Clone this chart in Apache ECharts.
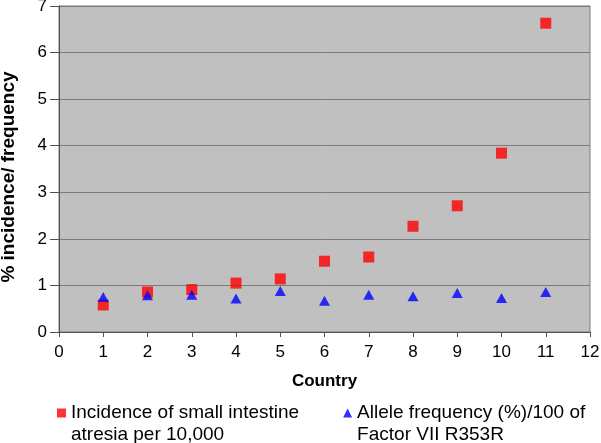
<!DOCTYPE html>
<html>
<head>
<meta charset="utf-8">
<script src="https://cdn.jsdelivr.net/npm/echarts@6/dist/echarts.min.js"></script>
<style>html,body{margin:0;padding:0;background:#fff;}#c{width:601px;height:443px;}</style>
</head>
<body>
<div id="c"></div>
<script>
const countries = [1, 2, 3, 4, 5, 6, 7, 8, 9, 10, 11];
const incidence = [0.58, 0.86, 0.91, 1.05, 1.14, 1.52, 1.61, 2.27, 2.71, 3.84, 6.63];
const allele = [0.75, 0.79, 0.80, 0.72, 0.88, 0.67, 0.80, 0.77, 0.84, 0.73, 0.86];
const seriesNames = ['Incidence of small intestine\natresia per 10,000', 'Allele frequency (%)/100 of\nFactor VII R353R'];
const xTitle = 'Country';
const yTitle = '% incidence/ frequency';

const font = 'Liberation Sans, Arial, sans-serif';
const chart = echarts.init(document.getElementById('c'), null, {renderer: 'canvas'});
chart.setOption({
  animation: false,
  backgroundColor: '#ffffff',
  grid: {left: 59, right: 11, top: 6, bottom: 111, containLabel: false, outerBoundsMode: 'none',
         show: true, backgroundColor: '#c0c0c0', borderColor: '#7a7a7a', borderWidth: 1},
  xAxis: {
    type: 'value', min: 0, max: 12, interval: 1,
    name: xTitle, nameLocation: 'middle', nameGap: 41,
    nameTextStyle: {fontFamily: font, fontSize: 17, fontWeight: 'bold', color: '#000'},
    axisLine: {onZero: false, lineStyle: {color: '#505050', width: 1}},
    axisTick: {show: true, length: 5, inside: false, lineStyle: {color: '#505050'}},
    axisLabel: {fontFamily: font, fontSize: 17, color: '#000', margin: 12},
    splitLine: {show: false}
  },
  yAxis: {
    type: 'value', min: 0, max: 7, interval: 1,
    name: yTitle, nameLocation: 'middle', nameGap: 41, nameRotate: 90,
    nameTextStyle: {fontFamily: font, fontSize: 19, fontWeight: 'bold', color: '#000', padding: [0, 16, 0, 0]},
    axisLine: {show: true, lineStyle: {color: '#505050', width: 1}},
    axisTick: {show: true, length: 9, inside: false, lineStyle: {color: '#505050'}},
    axisLabel: {fontFamily: font, fontSize: 17, color: '#000', margin: 12},
    splitLine: {show: true, lineStyle: {color: '#7a7a7a', width: 1}}
  },
  legend: {
    left: 52, top: 375, itemGap: 44, itemWidth: 9, itemHeight: 9,
    formatter: name => ' \n' + name,
    textStyle: {fontFamily: font, fontSize: 19, color: '#000', lineHeight: 22},
    data: [{name: seriesNames[0], icon: 'rect'}, {name: seriesNames[1], icon: 'triangle'}]
  },
  series: [
    {name: seriesNames[0], type: 'scatter', symbol: 'rect', symbolSize: 11, itemStyle: {color: '#ff0000'},
     data: countries.map((c, i) => [c, incidence[i]])},
    {name: seriesNames[1], type: 'scatter', symbol: 'triangle', symbolSize: [11, 10], itemStyle: {color: '#0000ff'},
     data: countries.map((c, i) => [c, allele[i]])}
  ]
});
</script>
</body>
</html>
